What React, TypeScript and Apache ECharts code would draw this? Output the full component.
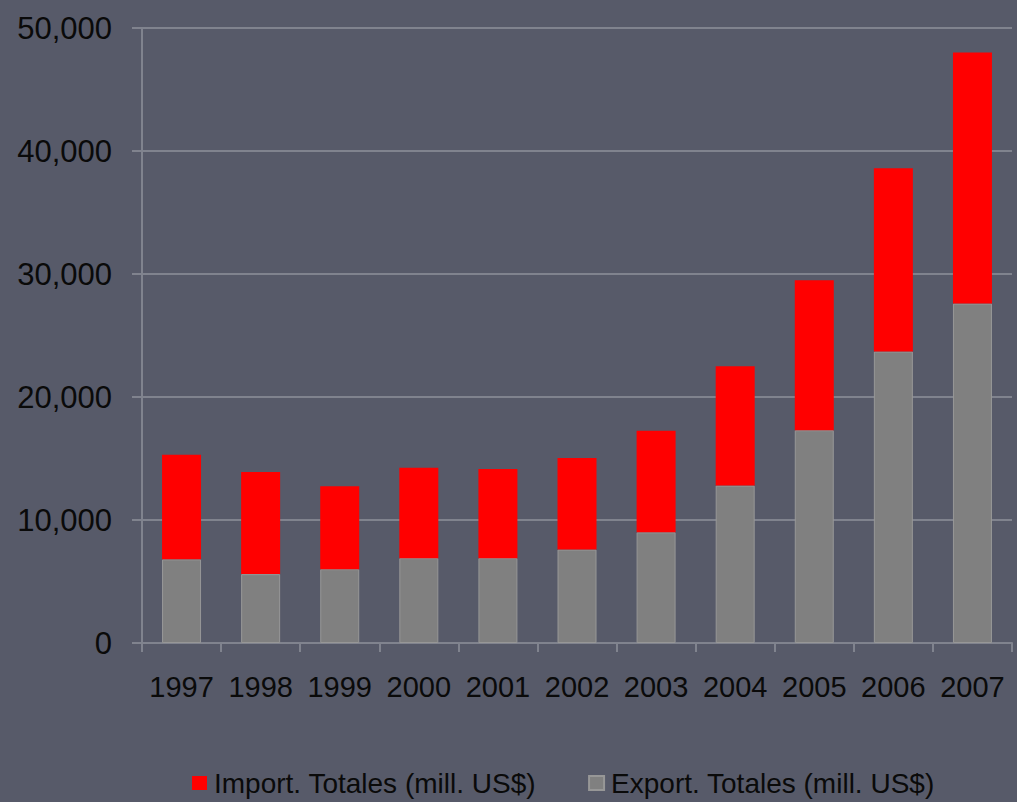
import React, { useEffect, useRef } from "react";
import * as echarts from "echarts";

const years = ["1997", "1998", "1999", "2000", "2001", "2002", "2003", "2004", "2005", "2006", "2007"];
const exportValues = [6800, 5600, 6000, 6900, 6900, 7600, 9000, 12800, 17300, 23700, 27600];
const importValues = [8500, 8300, 6750, 7350, 7250, 7450, 8250, 9700, 12200, 14900, 20400];
const importName = "Import. Totales (mill. US$)";
const exportName = "Export. Totales (mill. US$)";

export default function App() {
  const ref = useRef<HTMLDivElement>(null);
  useEffect(() => {
    if (!ref.current) return;
    const chart = echarts.init(ref.current, undefined, { renderer: "svg" });
    const font = "'Liberation Sans', Arial, sans-serif";
    const lineColor = "#80838e";
    chart.setOption({
      animation: false,
      backgroundColor: "#575a69",
      textStyle: { fontFamily: font },
      grid: { left: 142, right: 5, top: 28, bottom: 159, containLabel: false },
      legend: {
        data: [importName, exportName],
        left: 187,
        top: 764,
        itemWidth: 15,
        itemHeight: 14,
        itemGap: 52,
        icon: "rect",
        textStyle: { fontFamily: font, fontSize: 28, color: "#0a0a0a", padding: [0, 0, 0, 2] },
      },
      xAxis: {
        type: "category",
        data: years,
        axisLine: { show: true, lineStyle: { color: lineColor, width: 2 } },
        axisTick: { show: true, alignWithLabel: false, length: 9, lineStyle: { color: lineColor, width: 2 } },
        axisLabel: { color: "#0a0a0a", fontSize: 29, fontFamily: font, margin: 29, interval: 0 },
      },
      yAxis: {
        type: "value",
        min: 0,
        max: 50000,
        interval: 10000,
        axisLine: { show: true, lineStyle: { color: lineColor, width: 2 } },
        axisTick: { show: true, length: 10, lineStyle: { color: lineColor, width: 2 } },
        splitLine: { show: true, lineStyle: { color: lineColor, width: 2 } },
        axisLabel: {
          color: "#0a0a0a",
          fontSize: 31,
          fontFamily: font,
          margin: 30,
          formatter: (v: number) => v.toLocaleString("en-US"),
        },
      },
      series: [
        {
          name: exportName,
          type: "bar",
          stack: "total",
          data: exportValues,
          barWidth: 39,
          itemStyle: { color: "#808080", borderColor: "#979797", borderWidth: 1 },
        },
        {
          name: importName,
          type: "bar",
          stack: "total",
          data: importValues,
          barWidth: 39,
          itemStyle: { color: "#ff0000" },
        },
      ],
    });
    return () => chart.dispose();
  }, []);
  return (
    <div
      ref={ref}
      style={{ position: "fixed", left: 0, top: 0, width: 1017, height: 802 }}
    />
  );
}
